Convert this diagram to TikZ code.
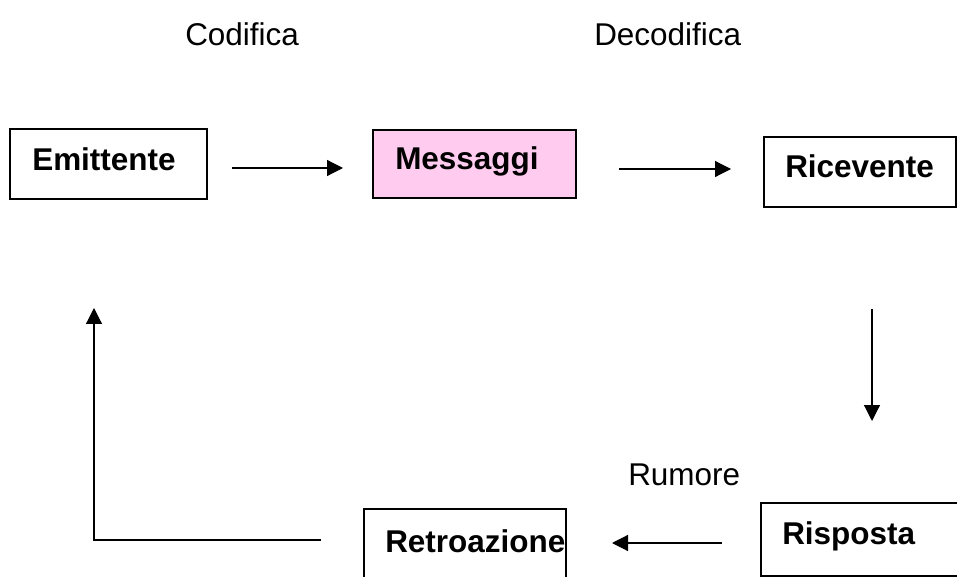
\documentclass[tikz,border=0pt]{standalone}
\usepackage{fontspec}
\setmainfont{Liberation Sans}
\usetikzlibrary{arrows.meta}
\definecolor{msgpink}{RGB}{255,204,240}
\begin{document}
\begin{tikzpicture}[x=0.75pt,y=-0.75pt,
    box/.style={draw=black,line width=0.9pt,rectangle,inner sep=0pt,outer sep=0pt},
    word/.style={inner sep=0pt,anchor=base west,font=\fontsize{23.6}{28}\selectfont},
    bword/.style={word,font=\fontsize{23.6}{28}\selectfont\bfseries},
    flow/.style={draw=black,line width=0.9pt,-{Triangle[length=12pt,width=12pt]}}]
    \useasboundingbox (0,0) rectangle (957,577);
    \clip (0,0) rectangle (957,577);
    % boxes
    \node[box,minimum width=147.75pt,minimum height=52.5pt] (emitt) at (108.5,164) {};
    \node[box,fill=msgpink,minimum width=152.25pt,minimum height=51pt] (messa) at (474.5,164) {};
    \node[box,minimum width=144pt,minimum height=52.5pt] (ricev) at (860,172) {};
    \node[box,minimum width=151.5pt,minimum height=68.25pt] (retro) at (465,554.5) {};
    \node[box,minimum width=156.75pt,minimum height=54.75pt] (rispo) at (865.5,539.5) {};
    % texts
    \node[bword] (emitt-t) at (32,171) {Emittente};
    \node[bword] (messa-t) at (395,170) {Messaggi};
    \node[bword] (ricev-t) at (785,178) {Ricevente};
    \node[bword] (retro-t) at (385,552) {Retroazione};
    \node[bword] (rispo-t) at (782,544) {Risposta};
    \node[word] (cod) at (185,46) {Codifica};
    \node[word] (decod) at (594,46) {Decodifica};
    \node[word] (rumore) at (628,485) {Rumore};
    % arrow ends
    \coordinate (a1) at (232,168);
    \coordinate (b1) at (343,168);
    \coordinate (a2) at (619,169);
    \coordinate (b2) at (731,169);
    \coordinate (a3) at (872,309);
    \coordinate (b3) at (872,421);
    \coordinate (a4) at (722,543);
    \coordinate (b4) at (612,543);
    \coordinate (a5) at (321,540);
    \coordinate (b5) at (94,308);
    \draw[flow] (a1) -- (b1);
    \draw[flow] (a2) -- (b2);
    \draw[flow] (a3) -- (b3);
    \draw[flow] (a4) -- (b4);
    \draw[flow] (a5) -| (b5);
\end{tikzpicture}
\end{document}
